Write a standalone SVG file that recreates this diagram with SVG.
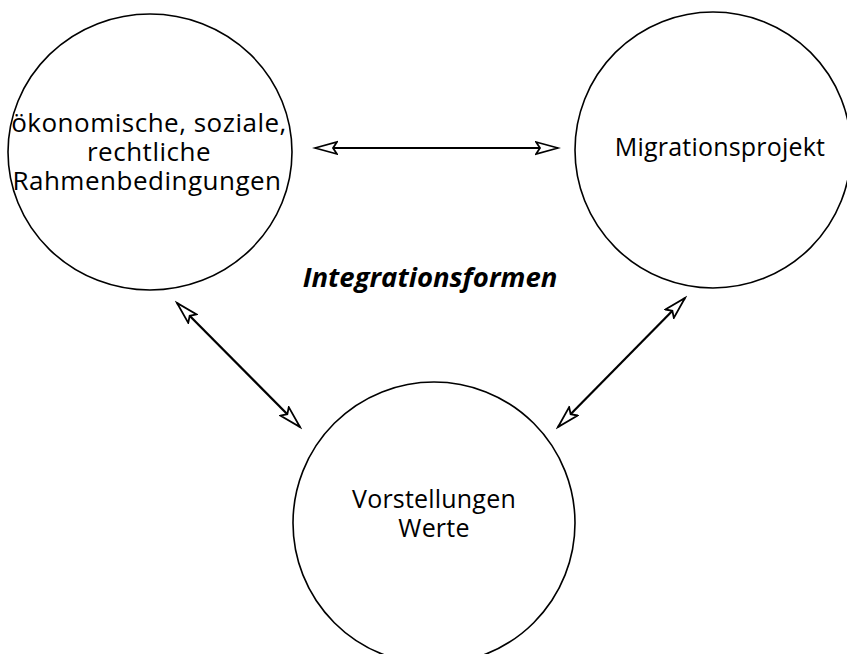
<svg xmlns="http://www.w3.org/2000/svg" width="847" height="654" viewBox="0 0 847 654">
<style>
.node{fill:none;stroke:#000;stroke-width:1.6}
.lbl{font-family:"Open Sans","DejaVu Sans",sans-serif;font-size:25px;letter-spacing:0.2px;fill:#000;text-anchor:middle}
.lbl1{font-size:26px;letter-spacing:0.5px}
.title{font-family:"Open Sans","DejaVu Sans",sans-serif;font-size:27.5px;font-weight:bold;font-style:italic;fill:#000;text-anchor:middle}
.conn{stroke:#000;stroke-width:2.2;fill:none;marker-start:url(#ah);marker-end:url(#ah)}
</style>
<defs>
<marker id="ah" markerUnits="userSpaceOnUse" markerWidth="26" markerHeight="16" refX="23" refY="7" orient="auto-start-reverse" viewBox="0 0 26 16">
<path d="M1,1 L23,7 L1,13 L5,7 Z" fill="#fff" stroke="#000" stroke-width="1.8" stroke-linejoin="miter"/>
</marker>
</defs>
<rect width="847" height="654" fill="#fff"/>
<g id="connectors">
<line class="conn" x1="315" y1="148" x2="558" y2="148"/>
<line class="conn" x1="177" y1="303" x2="300" y2="427"/>
<line class="conn" x1="685" y1="298" x2="558" y2="427"/>
</g>
<g id="node-rahmen">
<ellipse class="node" cx="150" cy="152" rx="142" ry="138"/>
<text class="lbl lbl1" x="149" y="132">ökonomische, soziale,</text>
<text class="lbl lbl1" x="149" y="161">rechtliche</text>
<text class="lbl lbl1" x="147" y="190">Rahmenbedingungen</text>
</g>
<g id="node-migration">
<circle class="node" cx="713" cy="150" r="138"/>
<text class="lbl" x="720" y="156">Migrationsprojekt</text>
</g>
<g id="node-werte">
<circle class="node" cx="434" cy="523" r="141"/>
<text class="lbl" x="434" y="508">Vorstellungen</text>
<text class="lbl" x="434" y="537">Werte</text>
</g>
<g id="label-integration">
<text class="title" x="430" y="287">Integrationsformen</text>
</g>
</svg>
